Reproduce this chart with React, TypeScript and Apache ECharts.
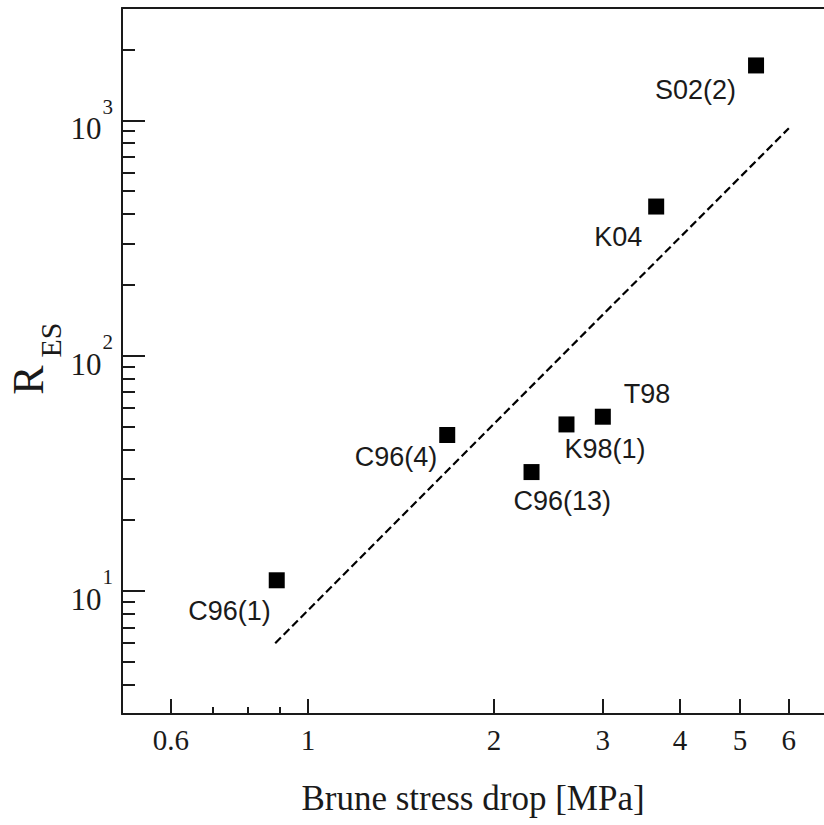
import React, { useEffect, useRef } from 'react';
import * as echarts from 'echarts';

// Axis ranges and ticks (real values; log axes)
const xRange = [0.5, 6.84];
const yRange = [3, 3000];
const xMajorTicks = [0.6, 1, 2, 3, 4, 5, 6];
const xMinorTicks = [0.7, 0.8, 0.9];
const yMajorTicks = [10, 100, 1000];
const yMinorTicks = [4, 5, 6, 7, 8, 9, 20, 30, 40, 50, 60, 70, 80, 90, 200, 300, 400, 500, 600, 700, 800, 900, 2000];

// Data points
const eventNames = ['C96(1)', 'C96(4)', 'C96(13)', 'K98(1)', 'T98', 'K04', 'S02(2)'];
const stressDrop = [0.89, 1.68, 2.3, 2.62, 3.0, 3.66, 5.31];
const rES = [11.1, 46, 32, 51, 55, 430, 1710];

// Dashed fit line end points
const fitStress = [0.885, 6.0];
const fitRES = [6.0, 925];

// Label placement (style only)
const labelAlign = ['right', 'right', 'left', 'left', 'left', 'right', 'right'];
const labelOffset = [[-6, 31], [-10, 22], [-18, 29], [-2, 25], [21, -23], [-14, 30], [-20, 25]];

const L = Math.log10;
const SERIF = '"Liberation Serif", "Times New Roman", serif';
const SANS = '"Liberation Sans", Arial, sans-serif';
const INK = '#1a1a1a';

export default function App() {
  const ref = useRef<HTMLDivElement>(null);
  useEffect(() => {
    if (!ref.current) return;
    const chart = echarts.init(ref.current, null, { renderer: 'svg' });
    const fmtX = (v: number) => {
      const r = Math.round(Math.pow(10, v) * 10) / 10;
      return String(r);
    };
    const xBase = { type: 'value', min: L(xRange[0]), max: L(xRange[1]), splitLine: { show: false } };
    const yBase = { type: 'value', min: L(yRange[0]), max: L(yRange[1]), splitLine: { show: false } };
    const option: any = {
      animation: false,
      backgroundColor: '#fff',
      grid: { left: 122, top: 8, right: 0, height: 706, show: false },
      xAxis: [
        {
          ...xBase, position: 'bottom',
          axisLine: { show: true, onZero: false, lineStyle: { color: INK, width: 2 } },
          axisTick: { show: true, inside: true, length: 15, customValues: xMajorTicks.map(L), lineStyle: { color: INK, width: 2 } },
          axisLabel: { show: true, customValues: xMajorTicks.map(L), formatter: fmtX, margin: 11, fontFamily: SERIF, fontSize: 29, color: INK },
          name: 'Brune stress drop [MPa]', nameLocation: 'middle', nameGap: 67,
          nameTextStyle: { fontFamily: SERIF, fontSize: 35, color: INK },
        },
        {
          ...xBase, position: 'bottom',
          axisLine: { show: false, onZero: false },
          axisTick: { show: true, inside: true, length: 7, customValues: xMinorTicks.map(L), lineStyle: { color: INK, width: 2 } },
          axisLabel: { show: false },
        },
        {
          ...xBase, position: 'top',
          axisLine: { show: true, onZero: false, lineStyle: { color: INK, width: 2 } },
          axisTick: { show: false },
          axisLabel: { show: false },
        },
      ],
      yAxis: [
        {
          ...yBase, position: 'left',
          axisLine: { show: true, onZero: false, lineStyle: { color: INK, width: 2 } },
          axisTick: { show: true, inside: true, length: 23, customValues: yMajorTicks.map(L), lineStyle: { color: INK, width: 2 } },
          axisLabel: {
            show: true, customValues: yMajorTicks.map(L), margin: 9,
            fontFamily: SERIF, fontSize: 31, color: INK,
            formatter: (v: number) => `{base|10}{sup|${Math.round(v)}}`,
            rich: {
              base: { fontFamily: SERIF, fontSize: 31, color: INK, padding: [17, 0, 0, 0], verticalAlign: 'bottom' },
              sup: { fontFamily: SERIF, fontSize: 21, color: INK, verticalAlign: 'top', padding: [0, 0, 0, 1] },
            },
          },
        },
        {
          ...yBase, position: 'left',
          axisLine: { show: false, onZero: false },
          axisTick: { show: true, inside: true, length: 13, customValues: yMinorTicks.map(L), lineStyle: { color: INK, width: 2 } },
          axisLabel: { show: false },
        },
      ],
      series: [
        {
          type: 'line', xAxisIndex: 0, yAxisIndex: 0,
          data: fitStress.map((x, i) => [L(x), L(fitRES[i])]),
          showSymbol: false, symbol: 'none',
          lineStyle: { color: '#000', width: 2.2, type: [8, 4] },
          silent: true,
        },
        {
          type: 'scatter', xAxisIndex: 0, yAxisIndex: 0,
          symbol: 'rect', symbolSize: 16,
          itemStyle: { color: '#000', opacity: 1 },
          data: stressDrop.map((x, i) => ({
            value: [L(x), L(rES[i])],
            name: eventNames[i],
            label: {
              show: true, position: 'inside', formatter: eventNames[i],
              align: labelAlign[i], verticalAlign: 'middle', offset: labelOffset[i],
              fontFamily: SANS, fontSize: 27, color: INK, opacity: 1,
            },
          })),
        },
      ],
      graphic: [
        { type: 'text', x: 28, y: 380, rotation: Math.PI / 2, style: { text: 'R', font: `44px ${SERIF}`, fill: INK, align: 'center', verticalAlign: 'middle' } },
        { type: 'text', x: 50, y: 340, rotation: Math.PI / 2, style: { text: 'ES', font: `30px ${SERIF}`, fill: INK, align: 'center', verticalAlign: 'middle' } },
      ],
    };
    chart.setOption(option);
    return () => chart.dispose();
  }, []);
  return <div ref={ref} style={{ position: 'fixed', left: 0, top: 0, width: 824, height: 825, background: '#fff' }} />;
}
